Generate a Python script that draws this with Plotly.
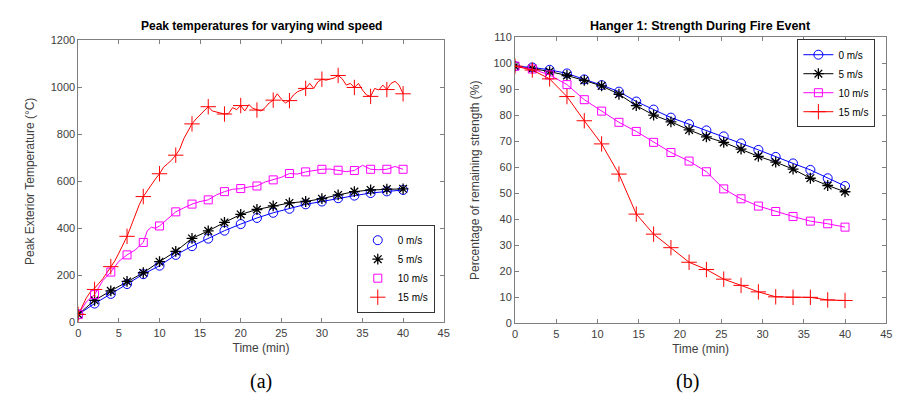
import plotly.graph_objects as go

# ---------------- (a) Peak temperatures ----------------
t_mark = [0, 2, 4, 6, 8, 10, 12, 14, 16, 18, 20, 22, 24, 26, 28, 30, 32, 34, 36, 38, 40]
temp_0 = [34, 80, 121, 163, 205, 241, 287, 324, 356, 390, 418, 444, 466, 483, 502, 514, 528, 539, 550, 557, 563]
temp_5 = [34, 94, 134, 174, 211, 258, 302, 357, 389, 425, 459, 480, 495, 508, 514, 526, 542, 556, 563, 567, 568]
temp_10_mark = [34, 118, 214, 287, 340, 410, 470, 503, 521, 556, 569, 580, 606, 633, 640, 651, 647, 646, 651, 651, 651]
temp_15_mark = [34, 140, 237, 366, 535, 632, 711, 844, 917, 886, 922, 903, 945, 943, 995, 1034, 1050, 999, 961, 990, 972]

t_10_line = [0, 1, 2, 3, 4, 5, 6, 7, 8, 8.5, 9, 9.5, 10, 11, 12, 13, 14, 15, 16, 17, 18, 19, 20,
             21, 22, 23, 24, 25, 26, 27, 28, 29, 30, 31, 32, 33, 34, 35, 36, 37, 38, 39, 40]
temp_10_line = [34, 88, 118, 177, 214, 260, 287, 308, 340, 390, 405, 400, 410, 438, 470, 487, 503, 514, 521, 542, 556, 566, 569,
                576, 580, 597, 606, 617, 633, 631, 640, 645, 651, 652, 647, 641, 646, 668, 651, 649, 651, 663, 651]

t_15_line = [0, 0.5, 1, 1.5, 2, 2.5, 3, 3.5, 4, 4.5, 5, 5.5, 6, 6.5, 7, 7.5, 8, 8.5, 9, 9.5,
             10, 10.5, 11, 11.5, 12, 12.5, 13, 13.5, 14, 14.5, 15, 15.5, 16, 16.5, 17, 17.5, 18, 18.5, 19, 19.5,
             20, 20.5, 21, 21.5, 22, 22.5, 23, 23.5, 24, 24.5, 25, 25.5, 26, 26.5, 27, 27.5, 28, 28.5, 29, 29.5,
             30, 30.5, 31, 31.5, 32, 32.5, 33, 33.5, 34, 34.5, 35, 35.5, 36, 36.5, 37, 37.5, 38, 38.5, 39, 39.5, 40]
temp_15_line = [34, 70, 105, 130, 145, 165, 185, 210, 237, 262, 295, 330, 366, 410, 455, 500, 535, 560, 590, 610,
                632, 660, 675, 690, 711, 737, 782, 810, 844, 865, 882, 902, 917, 899, 895, 890, 886, 888, 913, 905,
                922, 899, 926, 910, 903, 899, 913, 933, 945, 972, 950, 933, 943, 967, 981, 988, 995, 1016, 995, 1023,
                1034, 1030, 1033, 1039, 1050, 1036, 1009, 1016, 999, 1016, 988, 967, 961, 995, 988, 1009, 990, 1016, 1025, 1009, 972]

# ---------------- (b) Remaining strength ----------------
t_str = [0, 2.1, 4.2, 6.3, 8.4, 10.5, 12.6, 14.7, 16.8, 18.9, 21.1, 23.2, 25.3, 27.4, 29.5, 31.6, 33.7, 35.8, 37.9, 40]
str_0 = [98.9, 98.4, 97.5, 96.1, 93.8, 91.6, 89.1, 85.3, 82.2, 79.1, 76.6, 74.2, 71.9, 69.2, 66.7, 64.0, 61.5, 59.0, 55.8, 52.8]
str_5 = [98.9, 98.0, 96.8, 95.3, 93.4, 91.3, 88.1, 83.7, 80.1, 77.5, 74.4, 71.7, 69.6, 67.0, 64.2, 62.0, 59.3, 55.8, 53.0, 50.6]
str_10 = [98.9, 97.8, 95.5, 91.8, 86.0, 81.6, 77.3, 73.8, 69.6, 65.7, 62.4, 58.3, 51.7, 47.9, 45.1, 43.0, 41.1, 39.3, 38.3, 37.0]
str_15 = [98.9, 97.4, 94.0, 87.2, 77.9, 69.0, 57.4, 42.0, 34.3, 29.1, 23.5, 20.7, 17.0, 14.6, 12.1, 10.2, 10.0, 10.0, 9.0, 8.8]

names = ["0 m/s", "5 m/s", "10 m/s", "15 m/s"]
colors = ["#0000FF", "#000000", "#FF00FF", "#FF0000"]
symbols = ["circle-open", "asterisk-open", "square-open", "cross-thin-open"]
msizes = [9, 9, 8, 11]
mwidths = [1, 1.3, 1, 1]

fig = go.Figure()

left_lines = [(t_mark, temp_0), (t_mark, temp_5), (t_10_line, temp_10_line), (t_15_line, temp_15_line)]
left_marks = [temp_0, temp_5, temp_10_mark, temp_15_mark]
for i in range(4):
    fig.add_trace(go.Scatter(x=left_lines[i][0], y=left_lines[i][1], mode="lines",
                             line=dict(color=colors[i], width=1), showlegend=False,
                             xaxis="x", yaxis="y", hoverinfo="skip"))
for i in range(4):
    fig.add_trace(go.Scatter(x=t_mark, y=left_marks[i], mode="markers", name=names[i],
                             marker=dict(symbol=symbols[i], size=msizes[i], color=colors[i],
                                         line=dict(color=colors[i], width=mwidths[i])),
                             xaxis="x", yaxis="y", legend="legend"))

right_vals = [str_0, str_5, str_10, str_15]
for i in range(4):
    fig.add_trace(go.Scatter(x=t_str, y=right_vals[i], mode="lines+markers", name=names[i],
                             line=dict(color=colors[i], width=1),
                             marker=dict(symbol=symbols[i], size=msizes[i], color=colors[i],
                                         line=dict(color=colors[i], width=mwidths[i])),
                             xaxis="x2", yaxis="y2", legend="legend2"))

W, H = 912, 397
axis_common = dict(showline=True, linecolor="#7f7f7f", linewidth=1, mirror="allticks",
                   ticks="inside", ticklen=4, tickcolor="#7f7f7f", showgrid=False, zeroline=False,
                   tickfont=dict(family="Liberation Sans, Arial", size=11, color="#404040"))
title_font = dict(family="Liberation Sans, Arial", size=12, color="#404040")

fig.update_layout(
    width=W, height=H,
    margin=dict(l=0, r=0, t=0, b=0),
    paper_bgcolor="white", plot_bgcolor="white",
    xaxis=dict(domain=[68 / W, 437 / W], range=[0, 45], dtick=5, anchor="y",
               title=dict(text="Time (min)", font=title_font, standoff=6), **axis_common),
    yaxis=dict(domain=[1 - 318 / H, 1 - 27 / H], range=[0, 1200], dtick=200, anchor="x",
               title=dict(text="Peak Exterior Temperature (°C)", font=title_font, standoff=13), **axis_common),
    xaxis2=dict(domain=[509 / W, 884 / W], range=[0, 45], dtick=5, anchor="y2",
                title=dict(text="Time (min)", font=title_font, standoff=6), **axis_common),
    yaxis2=dict(domain=[1 - 319 / H, 1 - 24 / H], range=[0, 110], dtick=10, anchor="x2",
                title=dict(text="Percentage of remaining strength (%)", font=title_font, standoff=11), **axis_common),
    legend=dict(x=428 / W, y=1 - 308 / H, xanchor="right", yanchor="bottom",
                bgcolor="white", bordercolor="#333333", borderwidth=1,
                font=dict(family="Liberation Sans, Arial", size=10, color="#000000"),
                tracegroupgap=0, itemwidth=30),
    legend2=dict(x=873 / W, y=1 - 26 / H, xanchor="right", yanchor="top",
                 bgcolor="white", bordercolor="#333333", borderwidth=1,
                 font=dict(family="Liberation Sans, Arial", size=10, color="#000000"),
                 tracegroupgap=0, itemwidth=30),
    annotations=[
        dict(text="<b>Peak temperatures for varying wind speed</b>", x=(68 + 437) / 2 / W, y=1 - 12 / H,
             xref="paper", yref="paper", showarrow=False, xanchor="center", yanchor="middle",
             font=dict(family="Liberation Sans, Arial", size=12, color="#000000")),
        dict(text="<b>Hanger 1: Strength During Fire Event</b>", x=(509 + 884) / 2 / W, y=1 - 12 / H,
             xref="paper", yref="paper", showarrow=False, xanchor="center", yanchor="middle",
             font=dict(family="Liberation Sans, Arial", size=12.5, color="#000000")),
        dict(text="(a)", x=252 / W, y=1 - 379 / H, xref="paper", yref="paper", showarrow=False,
             xanchor="center", yanchor="middle",
             font=dict(family="Liberation Serif, Times New Roman", size=20, color="#000000")),
        dict(text="(b)", x=683 / W, y=1 - 379 / H, xref="paper", yref="paper", showarrow=False,
             xanchor="center", yanchor="middle",
             font=dict(family="Liberation Serif, Times New Roman", size=20, color="#000000")),
    ],
)

fig.write_html("out.html")
